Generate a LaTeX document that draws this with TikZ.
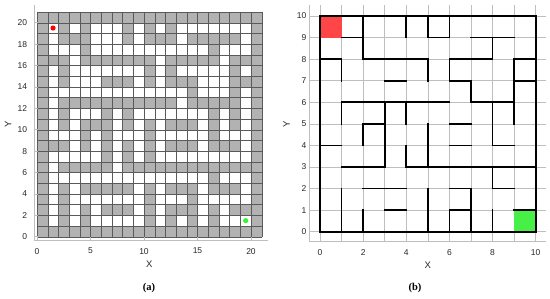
\documentclass[tikz,border=0pt]{standalone}
\usepackage{fontspec}
\setmainfont{Liberation Sans}
\newfontfamily\capfont{Liberation Serif}
\begin{document}
\begin{tikzpicture}
\definecolor{wallgray}{RGB}{178,178,178}
\definecolor{cellline}{RGB}{90,90,90}
\definecolor{axgray}{RGB}{190,190,190}
\definecolor{txt}{RGB}{40,40,40}
\definecolor{startred}{RGB}{255,70,70}
\definecolor{goalgreen}{RGB}{70,240,70}
\tikzset{
  cellgrid/.style={draw=cellline, line width=0.35pt},
  lightgrid/.style={draw=axgray, line width=0.5pt},
  axisline/.style={draw=axgray, line width=0.6pt},
  wall/.style={draw=black, line width=1.7pt, line cap=rect},
  ticklab/.style={font=\fontsize{8.5}{9}\selectfont, text=txt, inner sep=0pt},
  axlab/.style={font=\fontsize{9.5}{10}\selectfont, text=txt, inner sep=0pt},
  caplab/.style={font=\capfont\bfseries\fontsize{10.5}{11}\selectfont, inner sep=0pt}
}
\useasboundingbox (0,0) rectangle (550pt,-298pt);
\fill[white] (0,0) rectangle (550pt,-298pt);

% ---------------- panel (a) ----------------
\begin{scope}[shift={(37pt,-236.7pt)}, x=10.7pt, y=10.7pt]
  % outer border cells
  \fill[wallgray] (0,0) rectangle (21,1);
  \fill[wallgray] (0,20) rectangle (21,21);
  \fill[wallgray] (0,0) rectangle (1,21);
  \fill[wallgray] (20,0) rectangle (21,21);
  % horizontal walls
  \foreach \y/\a/\b in {9/1/2, 9/5/6, 9/7/9, 8/0/1, 8/2/5, 8/6/8, 8/9/10,
      7/3/4, 7/6/7, 7/9/10, 6/1/6, 6/7/9, 5/2/3, 5/6/7, 4/0/1, 4/6/7, 4/8/9,
      3/1/3, 3/4/10, 2/2/4, 2/6/7, 2/8/9, 1/3/4, 1/6/7, 1/9/10}
    \fill[wallgray] (2*\a,2*\y) rectangle (2*\b+1,2*\y+1);
  % vertical walls
  \foreach \x/\a/\b in {1/9/10, 1/7/8, 1/5/6, 1/0/2, 2/8/10, 2/4/5, 2/0/1, 3/3/6,
      4/9/10, 4/5/6, 4/3/4, 5/9/10, 5/7/8, 5/3/5, 5/0/2, 6/9/10, 6/7/8, 6/0/1,
      7/6/7, 7/0/2, 8/8/9, 8/4/6, 8/2/3, 8/0/1, 9/5/8}
    \fill[wallgray] (2*\x,2*\a) rectangle (2*\x+1,2*\b+1);
  % cell grid
  \foreach \i in {0,...,21} {
    \draw[cellgrid] (\i,0) -- (\i,21);
    \draw[cellgrid] (0,\i) -- (21,\i);
  }
  % start and goal
  \fill[red] (1.5,19.5) circle (2.6pt);
  \fill[goalgreen!80!green] (19.5,1.5) circle (2.6pt);
  % axes
  \draw[axisline] (-0.25,-0.3) -- (21.6,-0.3);
  \draw[axisline] (-0.25,-0.3) -- (-0.25,21.65);
  \foreach \t in {0,5,10,15,20} {
    \draw[axisline] (\t,-0.3) -- (\t,0.0);
    \node[ticklab, anchor=north] at (\t,-1.05) {\t};
  }
  \foreach \t in {0,2,...,20} {
    \draw[axisline] (-0.25,\t) -- (0.05,\t);
    \node[ticklab, anchor=east] at (-0.9,\t) {\t};
  }
  \node[axlab] at (10.5,-2.6) {X};
  \node[axlab, rotate=90] at (-2.7,10.5) {Y};
\end{scope}
\node[caplab] at (149pt,-288pt) {(a)};

% ---------------- panel (b) ----------------
\begin{scope}[shift={(320pt,-231.7pt)}, x=21.57pt, y=21.57pt]
  \foreach \i in {0,...,10} {
    \draw[lightgrid] (\i,-0.5) -- (\i,10.5);
    \draw[lightgrid] (-0.5,\i) -- (10.5,\i);
  }
  \fill[startred] (0,9) rectangle (1,10);
  \fill[goalgreen] (9,0) rectangle (10,1);
  % walls
  \foreach \y/\a/\b in {9/1/2, 9/5/6, 9/7/9, 8/0/1, 8/2/5, 8/6/8, 8/9/10,
      7/3/4, 7/6/7, 7/9/10, 6/1/6, 6/7/9, 5/2/3, 5/6/7, 4/0/1, 4/6/7, 4/8/9,
      3/1/3, 3/4/10, 2/2/4, 2/6/7, 2/8/9, 1/3/4, 1/6/7, 1/9/10}
    \draw[wall] (\a,\y) -- (\b,\y);
  \foreach \x/\a/\b in {1/7/8, 1/5/6, 1/0/2, 2/8/10, 2/4/5, 2/0/1, 3/3/6,
      4/9/10, 4/5/6, 4/3/4, 5/9/10, 5/7/8, 5/3/5, 5/0/2, 6/9/10, 6/7/8, 6/0/1,
      7/6/7, 7/0/2, 8/8/9, 8/4/6, 8/2/3, 8/0/1, 9/5/8}
    \draw[wall] (\x,\a) -- (\x,\b);
  \draw[wall] (0,0) rectangle (10,10);
  % axes
  \draw[axisline] (-0.5,-0.46) -- (10.5,-0.46);
  \draw[axisline] (-0.5,-0.46) -- (-0.5,10.5);
  \foreach \t in {0,2,...,10} {
    \node[ticklab, anchor=north] at (\t,-0.82) {\t};
  }
  \foreach \t in {0,...,10} {
    \node[ticklab, anchor=east] at (-0.62,\t) {\t};
  }
  \node[axlab] at (5,-1.55) {X};
  \node[axlab, rotate=90] at (-1.55,5) {Y};
\end{scope}
\node[caplab] at (415pt,-288pt) {(b)};
\end{tikzpicture}
\end{document}
